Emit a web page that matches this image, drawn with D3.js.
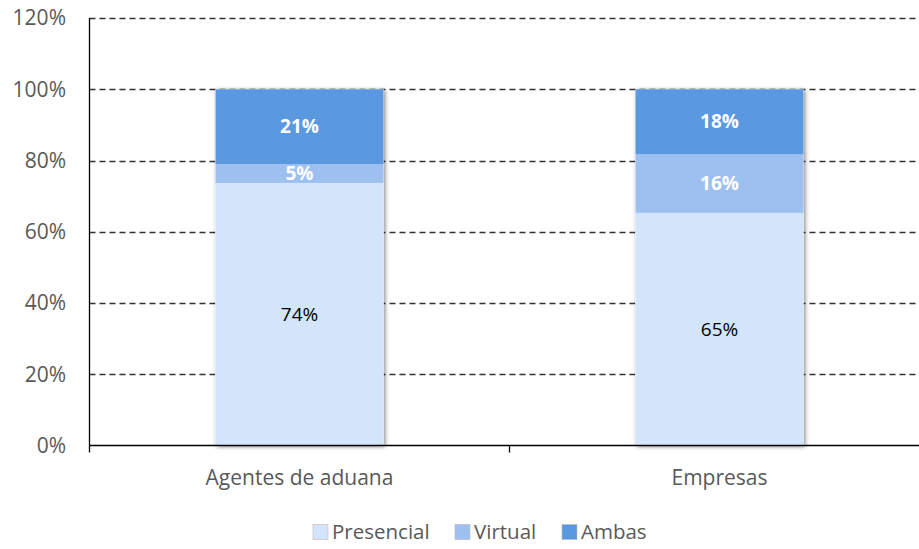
<!DOCTYPE html>
<html><head><meta charset="utf-8">
<script src="https://cdn.jsdelivr.net/npm/d3@7"></script>
<style>body{margin:0;background:#fff;font-family:"Open Sans","Noto Sans",sans-serif;}</style>
</head><body>
<svg id="c" width="919" height="549"></svg>
<script>
const categories = ["Agentes de aduana", "Empresas"];
const seriesNames = ["Presencial", "Virtual", "Ambas"];
const presencial = [73.7, 65.3];
const virtual = [5.3, 16.4];
const ambas = [21.0, 18.3];
const yTicks = [0, 20, 40, 60, 80, 100, 120];

(function () {
const colors = ["#D2E5FB", "#9DC0F0", "#5A98E0"];
const labelColors = ["#000", "#fff", "#fff"];
const labelWeights = ["normal", "bold", "bold"];

const svg = d3.select("#c");
const mL = 89.5, mR = 929.5, mT = 18, mB = 445.5;
const x = d3.scaleBand().domain(categories).range([mL, mR]).paddingInner(0).paddingOuter(0);
const y = d3.scaleLinear().domain([0, 120]).range([mB, mT]);

const defs = svg.append("defs");
const f = defs.append("filter").attr("id", "sh").attr("x", "-10%").attr("y", "-10%").attr("width", "120%").attr("height", "120%");
f.append("feDropShadow").attr("dx", 1.5).attr("dy", 1).attr("stdDeviation", 2.2).attr("flood-color", "#000").attr("flood-opacity", 0.5);

svg.append("g").selectAll("line").data(yTicks.filter(d => d > 0)).join("line")
  .attr("x1", mL).attr("x2", mR).attr("y1", d => Math.round(y(d)) + 0.5).attr("y2", d => Math.round(y(d)) + 0.5)
  .attr("stroke", "#333").attr("stroke-width", 1.3).attr("stroke-dasharray", "6,4");

svg.append("g").selectAll("text").data(yTicks).join("text")
  .attr("x", 66).attr("y", d => y(d)).attr("dy", "0.35em").attr("text-anchor", "end")
  .attr("fill", "#595959").attr("font-size", 21).text(d => d + "%");

const data = categories.map((c, i) => ({cat: c, Presencial: presencial[i], Virtual: virtual[i], Ambas: ambas[i]}));
const stack = d3.stack().keys(seriesNames)(data);
const bw = x.bandwidth() * 0.4;

const barG = svg.append("g");
barG.selectAll("rect.shadow").data(data).join("rect").attr("class", "shadow")
  .attr("x", d => x(d.cat) + (x.bandwidth() - bw) / 2)
  .attr("y", d => y(d.Presencial + d.Virtual + d.Ambas))
  .attr("width", bw)
  .attr("height", d => y(0) - y(d.Presencial + d.Virtual + d.Ambas))
  .attr("fill", "#fff").attr("filter", "url(#sh)");

stack.forEach((s, si) => {
  barG.append("g").selectAll("rect").data(s).join("rect")
    .attr("x", d => x(d.data.cat) + (x.bandwidth() - bw) / 2)
    .attr("y", d => y(d[1]))
    .attr("width", bw)
    .attr("height", d => y(d[0]) - y(d[1]))
    .attr("fill", colors[si]);
  barG.append("g").selectAll("text").data(s).join("text")
    .attr("x", d => x(d.data.cat) + x.bandwidth() / 2)
    .attr("y", d => (y(d[0]) + y(d[1])) / 2)
    .attr("dy", "0.35em").attr("text-anchor", "middle")
    .attr("fill", labelColors[si]).attr("font-weight", labelWeights[si])
    .attr("font-size", 19)
    .text(d => Math.round(d[1] - d[0]) + "%");
});

svg.append("line").attr("x1", mL).attr("x2", mL).attr("y1", mT).attr("y2", mB).attr("stroke", "#000").attr("stroke-width", 1.3);
svg.append("line").attr("x1", mL).attr("x2", mR).attr("y1", mB).attr("y2", mB).attr("stroke", "#000").attr("stroke-width", 1.3);
const tickXs = [mL].concat(categories.map(c => x(c) + x.bandwidth()));
svg.append("g").selectAll("line").data(tickXs).join("line")
  .attr("x1", d => d).attr("x2", d => d).attr("y1", mB).attr("y2", mB + 7)
  .attr("stroke", "#000").attr("stroke-width", 1.3);

svg.append("g").selectAll("text").data(categories).join("text")
  .attr("x", d => x(d) + x.bandwidth() / 2).attr("y", 478).attr("dy", "0.35em")
  .attr("text-anchor", "middle").attr("fill", "#595959").attr("font-size", 21).text(d => d);

const legendX = [313, 455, 562];
const lg = svg.append("g").selectAll("g").data(seriesNames).join("g")
  .attr("transform", (d, i) => `translate(${legendX[i]},532)`);
lg.append("rect").attr("x", 0).attr("y", -7.5).attr("width", 15).attr("height", 15)
  .attr("fill", (d, i) => colors[i]).attr("stroke", "#bbb").attr("stroke-width", 0.6);
lg.append("text").attr("x", 19).attr("y", 0).attr("dy", "0.35em")
  .attr("fill", "#595959").attr("font-size", 20.5).text(d => d);
})();
</script>
</body></html>
